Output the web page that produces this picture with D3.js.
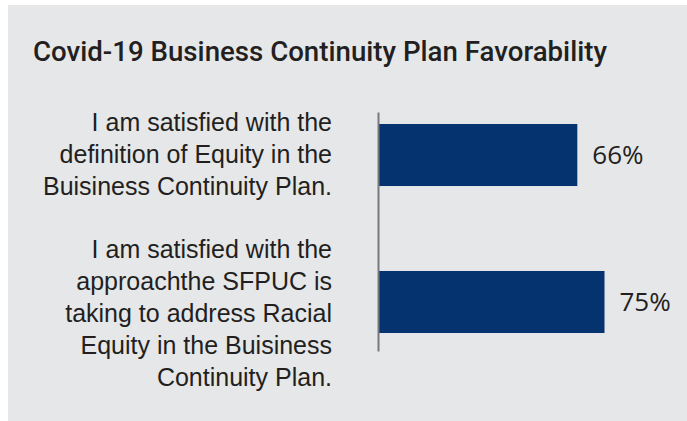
<!DOCTYPE html>
<html>
<head>
<meta charset="utf-8">
<script src="https://cdn.jsdelivr.net/npm/d3@7"></script>
<style>
  html, body { margin: 0; padding: 0; background: #ffffff; }
  svg { display: block; }
</style>
</head>
<body>
<svg id="chart" width="687" height="421"></svg>
<script>
const title = "Covid-19 Business Continuity Plan Favorability";
const categories = [
  ["I am satisfied with the", "definition of Equity in the", "Buisiness Continuity Plan."],
  ["I am satisfied with the", "approachthe SFPUC is", "taking to address Racial", "Equity in the Buisiness", "Continuity Plan."]
];
const values = [66, 75];
const valueLabels = ["66%", "75%"];

const svg = d3.select("#chart");
const W = 687, H = 421;

svg.append("rect").attr("x", 8).attr("y", 5).attr("width", W - 8).attr("height", H - 5)
  .attr("fill", "#e6e7e9");

svg.append("text")
  .attr("x", 33).attr("y", 61)
  .attr("font-family", "Roboto, 'Liberation Sans Narrow', Arial, sans-serif")
  .attr("font-weight", 500)
  .attr("font-size", 27.5)
  .attr("fill", "#231f20")
  .attr("textLength", 574)
  .attr("lengthAdjust", "spacingAndGlyphs")
  .text(title);

const idx = d3.range(values.length);
const y = d3.scaleBand().domain(idx).range([112, 351])
  .paddingInner(0.578).paddingOuter(0.102).align(0.4);
const x = d3.scaleLinear().domain([0, 100]).range([378, 680]);

// bars
svg.selectAll("rect.bar").data(idx).join("rect")
  .attr("class", "bar")
  .attr("x", x(0))
  .attr("y", d => y(d))
  .attr("width", d => x(values[d]) - x(0))
  .attr("height", y.bandwidth())
  .attr("fill", "#05336f");

// axis line
const axis = d3.axisLeft(y).tickSize(0).tickSizeOuter(0).tickFormat("");
const gAxis = svg.append("g").attr("transform", `translate(${x(0)},0)`).call(axis);
gAxis.select(".domain").attr("stroke", "#77787b").attr("stroke-width", 2);

// value labels
svg.selectAll("text.val").data(idx).join("text")
  .attr("class", "val")
  .attr("x", d => x(values[d]) + 15)
  .attr("y", d => y(d) + y.bandwidth() / 2)
  .attr("dy", "0.34em")
  .attr("font-family", "'Open Sans', 'Liberation Sans', Arial, sans-serif")
  .attr("font-size", 26)
  .attr("fill", "#231f20")
  .text(d => valueLabels[d]);

// category labels
const lh = 32;
const gCat = svg.selectAll("text.cat").data(idx).join("text")
  .attr("class", "cat")
  .attr("text-anchor", "end")
  .attr("font-family", "'Liberation Sans', Arial, sans-serif")
  .attr("font-size", 25)
  .attr("fill", "#231f20");
gCat.each(function(d) {
  const lines = categories[d];
  const n = lines.length;
  const c = y(d) + y.bandwidth() / 2;
  const first = c - (n - 1) / 2 * lh + 8 + (n - 3) * 6;
  d3.select(this).selectAll("tspan").data(lines).join("tspan")
    .attr("x", 332)
    .attr("y", (l, i) => first + i * lh)
    .text(l => l);
});
</script>
</body>
</html>
